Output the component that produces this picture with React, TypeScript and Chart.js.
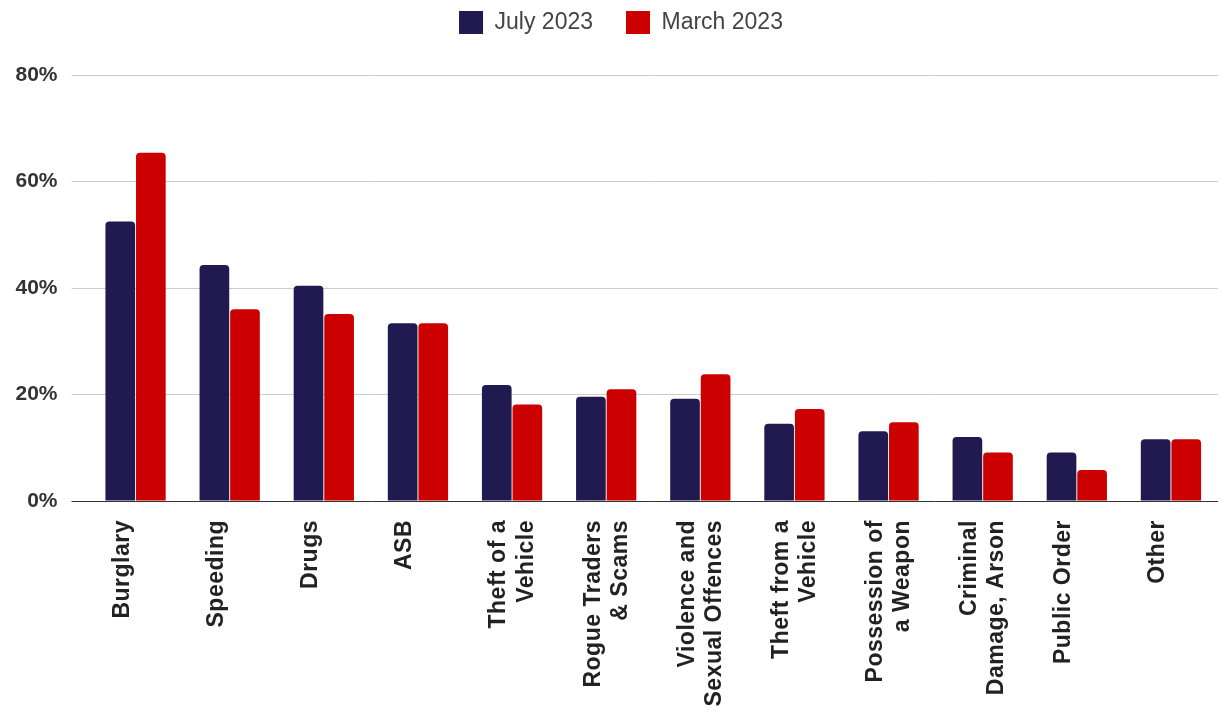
import React, { useEffect, useRef } from 'react';
import { Chart, registerables } from 'chart.js';

Chart.register(...registerables);

const categories: (string | string[])[] = [
  'Burglary',
  'Speeding',
  'Drugs',
  'ASB',
  ['Theft of a', 'Vehicle'],
  ['Rogue Traders', '& Scams'],
  ['Violence and', 'Sexual Offences'],
  ['Theft from a', 'Vehicle'],
  ['Possession of', 'a Weapon'],
  ['Criminal', 'Damage, Arson'],
  'Public Order',
  'Other',
];

const july2023 = [52.5, 44.3, 40.4, 33.4, 21.8, 19.6, 19.2, 14.5, 13.1, 12.0, 9.1, 11.6];
const march2023 = [65.4, 36.0, 35.1, 33.4, 18.1, 21.0, 23.8, 17.3, 14.8, 9.1, 5.8, 11.6];

const seriesNames = ['July 2023', 'March 2023'];
const yTickValues = [0, 20, 40, 60, 80];

const NAVY = '#211a50';
const RED = '#cc0000';
const FONT = '"Liberation Sans", Arial, sans-serif';

const tweaks = {
  id: 'tweaks',
  beforeLayout(chart: any) {
    const legend = chart.legend;
    if (legend && !legend.__patched) {
      const orig = legend.fit;
      legend.fit = function () {
        orig.call(this);
        this.height = 97;
      };
      legend.__patched = true;
    }
  },
  afterLayout(chart: any) {
    const xs = chart.scales.x;
    if (xs && !xs.__patched) {
      const orig = xs.drawLabels;
      xs.drawLabels = function (area: any) {
        const ctx = this.ctx;
        ctx.save();
        ctx.letterSpacing = '0.5px';
        orig.call(this, area);
        ctx.restore();
      };
      xs.__patched = true;
    }
    const ys = chart.scales.y;
    if (ys && !ys.__patched) {
      ys._computeLabelArea = () => undefined;
      ys.__patched = true;
    }
  },
};

export default function App() {
  const canvasRef = useRef<HTMLCanvasElement | null>(null);

  useEffect(() => {
    if (!canvasRef.current) return;
    const chart = new Chart(canvasRef.current, {
      type: 'bar',
      data: {
        labels: categories,
        datasets: [
          {
            label: seriesNames[0],
            data: july2023,
            backgroundColor: NAVY,
            borderRadius: { topLeft: 4, topRight: 4, bottomLeft: 0, bottomRight: 0 },
            borderSkipped: false,
            categoryPercentage: 0.65,
            barPercentage: 0.97,
          },
          {
            label: seriesNames[1],
            data: march2023,
            backgroundColor: RED,
            borderRadius: { topLeft: 4, topRight: 4, bottomLeft: 0, bottomRight: 0 },
            borderSkipped: false,
            categoryPercentage: 0.65,
            barPercentage: 0.97,
          },
        ],
      },
      options: {
        responsive: false,
        animation: false,
        devicePixelRatio: 1,
        layout: { padding: { top: -22, left: 24, right: 5, bottom: 0 } },
        plugins: {
          legend: {
            position: 'top',
            labels: {
              boxWidth: 24,
              boxHeight: 23,
              padding: 33,
              color: '#444444',
              font: { family: FONT, size: 23, weight: 'normal' },
            },
          },
          tooltip: { enabled: false },
        },
        scales: {
          x: {
            grid: { display: false, drawTicks: false },
            border: { display: false },
            afterFit(scale: any) {
              scale.height = 208;
            },
            ticks: {
              autoSkip: false,
              maxRotation: 90,
              minRotation: 90,
              padding: 19,
              labelOffset: -13,
              color: '#222222',
              font: { family: FONT, size: 23, weight: 'bold', lineHeight: 1.18 },
            },
          },
          y: {
            min: 0,
            max: 80,
            afterFit(scale: any) {
              scale.width = 64.5;
            },
            afterBuildTicks(scale: any) {
              scale.ticks = yTickValues.map((v) => ({ value: v }));
            },
            border: { display: false },
            grid: {
              color: (ctx: any) => (ctx.tick && ctx.tick.value === 0 ? '#333333' : '#cccccc'),
              tickColor: (ctx: any) => (ctx.tick && ctx.tick.value === 0 ? '#333333' : '#cccccc'),
              lineWidth: 1,
              drawTicks: true,
              tickLength: 17,
            },
            ticks: {
              padding: 14,
              color: '#333333',
              font: { family: FONT, size: 21, weight: 'bold' },
              callback: (v: any) => `${v}%`,
            },
          },
        },
      },
      plugins: [tweaks],
    });
    return () => chart.destroy();
  }, []);

  return (
    <div style={{ position: 'fixed', left: 0, top: 0, width: 1223, height: 709, background: '#ffffff' }}>
      <canvas ref={canvasRef} width={1223} height={709} />
    </div>
  );
}
